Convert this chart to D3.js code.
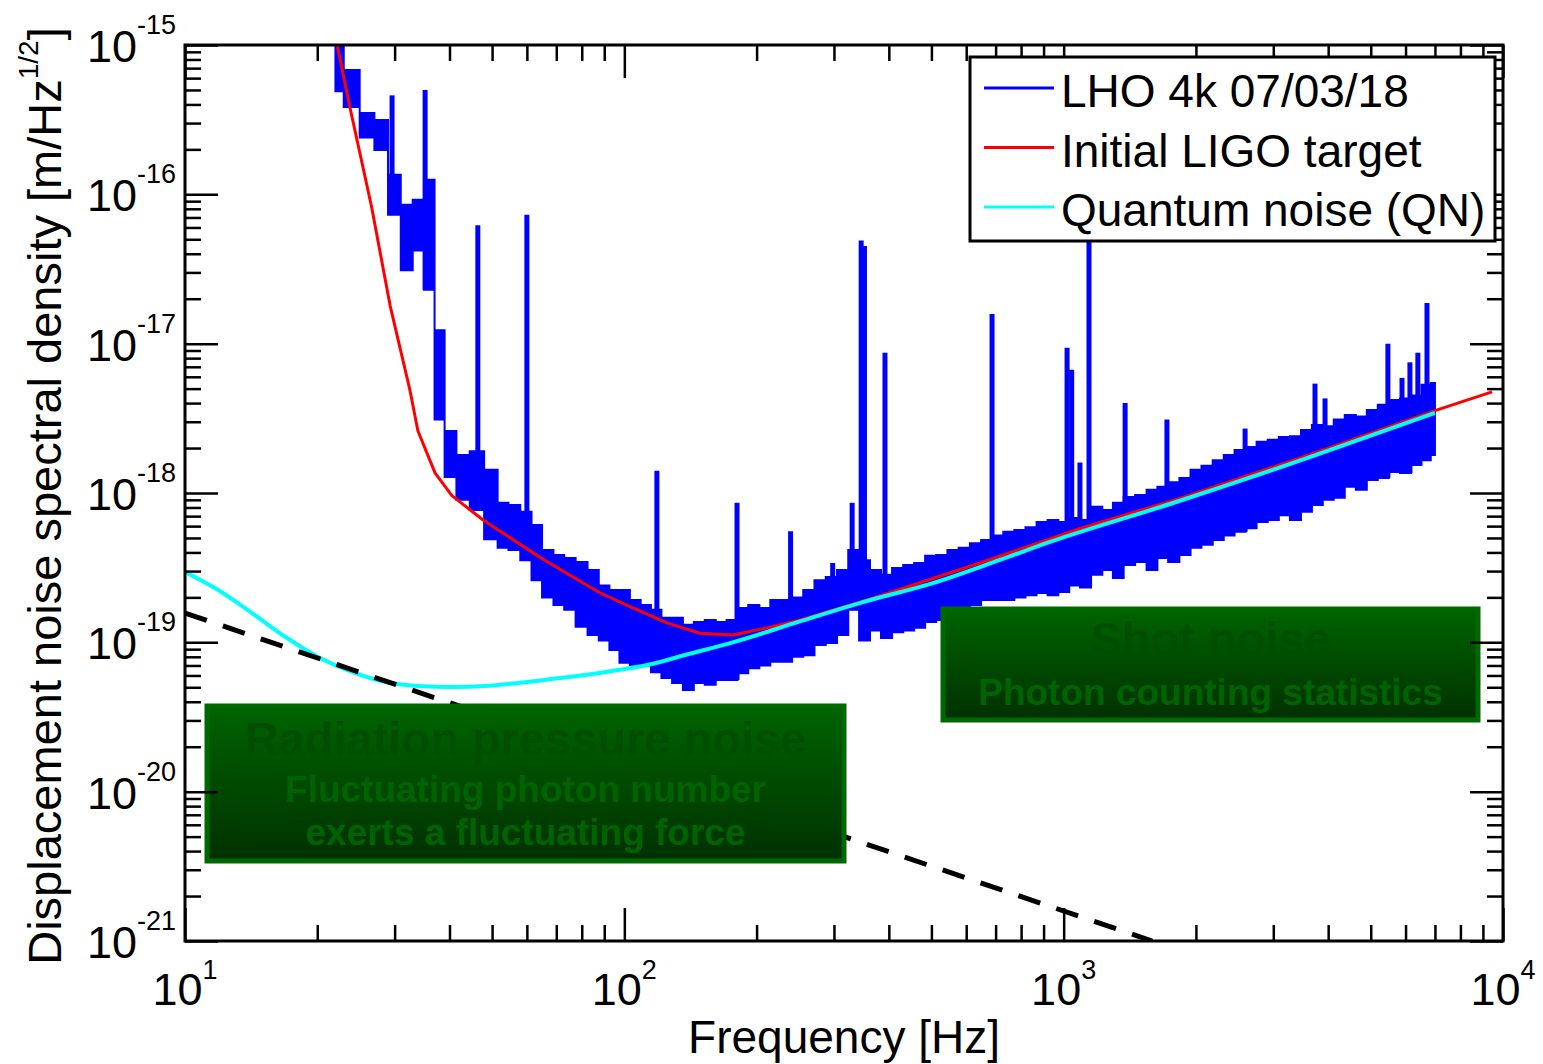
<!DOCTYPE html>
<html>
<head>
<meta charset="utf-8">
<script src="https://cdn.jsdelivr.net/npm/d3@7"></script>
<style>
  body { margin: 0; background: #fff; }
  text { font-family: "Liberation Sans", Arial, sans-serif; }
</style>
</head>
<body>
<script>
// ---- data ----
var bandFreq = [22, 24, 26, 28, 30, 32, 34, 36, 38, 40, 43, 46, 50, 53, 56, 60, 63, 67, 71, 75, 80, 85, 90, 95,
  100, 106, 112, 118, 125, 132, 140, 148, 157, 166, 176, 186, 197, 209, 221, 234, 248, 263, 279, 296, 314, 333,
  352, 373, 395, 419, 444, 470, 498, 528, 560, 594, 630, 668, 708, 750, 795, 843, 893, 946,
  1000, 1060, 1120, 1190, 1260, 1330, 1410, 1500, 1590, 1680, 1780, 1890, 2000, 2120, 2250, 2380, 2520, 2670,
  2830, 3000, 3180, 3370, 3570, 3780, 4000, 4240, 4490, 4760, 5040, 5340, 5660, 6000, 6350, 6700, 7000];

var bandHigh = [1.2e-15, 6.8e-16, 3.5e-16, 3.15e-16, 1.35e-16, 8.5e-17, 9.2e-17, 1.25e-16, 1.23e-17, 2.6e-18,
  1.8e-18, 1.9e-18, 1.43e-18, 8.6e-19, 8.3e-19, 7.5e-19, 6.1e-19, 4.15e-19, 3.85e-19, 3.67e-19, 3.45e-19, 3.05e-19,
  2.4e-19, 2.24e-19, 2.24e-19, 1.92e-19, 1.78e-19, 1.65e-19, 1.46e-19, 1.46e-19, 1.31e-19, 1.37e-19, 1.41e-19,
  1.37e-19, 1.41e-19, 1.7e-19, 1.78e-19, 1.7e-19, 1.92e-19, 1.92e-19, 2.0e-19, 2.24e-19, 2.6e-19, 2.74e-19,
  3.05e-19, 4.15e-19, 3.55e-19, 3.05e-19, 2.83e-19, 3.15e-19, 3.3e-19, 3.4e-19, 3.8e-19, 3.85e-19, 4.15e-19,
  4.3e-19, 4.6e-19, 4.85e-19, 5.2e-19, 5.5e-19, 5.65e-19, 5.9e-19, 6.4e-19, 6.6e-19,
  6.4e-19, 6.8e-19, 6.6e-19, 8.1e-19, 7.7e-19, 8.6e-19, 9.4e-19, 9.7e-19, 1.05e-18, 1.1e-18, 1.18e-18, 1.26e-18,
  1.43e-18, 1.52e-18, 1.66e-18, 1.8e-18, 1.94e-18, 2.03e-18, 2.2e-18, 2.27e-18, 2.37e-18, 2.4e-18, 2.64e-18,
  2.85e-18, 2.8e-18, 3.1e-18, 3.33e-18, 3.25e-18, 3.6e-18, 3.9e-18, 4.2e-18, 4.3e-18, 4.5e-18, 5.3e-18, 5.45e-18];

var bandLow = [4.9e-16, 3.85e-16, 2.4e-16, 1.98e-16, 7.3e-17, 3.1e-17, 4.2e-17, 2.3e-17, 3.1e-18, 1.28e-18,
  9.0e-19, 7.7e-19, 4.9e-19, 4.3e-19, 4.15e-19, 3.55e-19, 2.6e-19, 2.0e-19, 1.78e-19, 1.65e-19, 1.27e-19, 1.12e-19,
  1.03e-19, 8.9e-20, 7.3e-20, 7.0e-20, 7.0e-20, 6.3e-20, 5.76e-20, 5.34e-20, 4.8e-20, 5.34e-20, 5.2e-20,
  5.6e-20, 5.6e-20, 6.2e-20, 6.7e-20, 7.0e-20, 7.4e-20, 7.4e-20, 8.0e-20, 8.2e-20, 9.6e-20, 9.9e-20,
  1.12e-19, 1.65e-19, 1.03e-19, 1.2e-19, 1.07e-19, 1.17e-19, 1.2e-19, 1.25e-19, 1.37e-19, 1.41e-19, 1.53e-19,
  1.72e-19, 1.78e-19, 1.92e-19, 1.92e-19, 1.92e-19, 2.0e-19, 2.07e-19, 2.14e-19, 2.07e-19,
  2.17e-19, 2.4e-19, 2.33e-19, 2.83e-19, 3.05e-19, 2.7e-19, 3.3e-19, 3.45e-19, 3.05e-19, 3.67e-19, 3.45e-19,
  3.85e-19, 4.3e-19, 4.5e-19, 4.85e-19, 5.2e-19, 5.5e-19, 5.8e-19, 6.4e-19, 6.6e-19, 7.1e-19, 6.6e-19, 7.5e-19,
  8.3e-19, 9.0e-19, 9.3e-19, 1.1e-18, 1.05e-18, 1.22e-18, 1.26e-18, 1.38e-18, 1.36e-18, 1.54e-18, 1.66e-18, 1.8e-18];

// narrow lines sticking out of the LHO spectrum: [frequency, peak]
var spikes = [[29.6, 4.6e-16], [35.2, 5.0e-16], [46.4, 6.2e-17], [60, 7.3e-17], [118.6, 1.41e-18],
  [180.5, 8.6e-19], [239, 5.55e-19], [298, 3.4e-19], [330, 8.6e-19], [346, 4.9e-17], [352, 4.5e-17],
  [392, 8.7e-18], [687, 1.58e-17], [1018, 9.4e-18], [1043, 6.7e-18], [1089, 1.6e-18], [1142, 5.2e-17],
  [1380, 4.0e-18], [1718, 3.1e-18], [2588, 2.7e-18], [3733, 5.4e-18], [3935, 4.3e-18], [5470, 1.0e-17],
  [5890, 5.9e-18], [6140, 7.5e-18], [6400, 8.7e-18], [6714, 1.87e-17]];

var targetFreq = [22.2, 23.7, 26.6, 29.3, 32.5, 33.9, 37.1, 40.5, 47.7, 52.9, 65.3, 88.1, 104.6, 125, 148.6,
  176.6, 211, 251, 357, 645, 1090, 1775, 3580, 7000, 9440];
var targetVal = [1.0e-15, 3.9e-16, 8.2e-17, 1.8e-17, 4.9e-18, 2.6e-18, 1.36e-18, 9.6e-19, 6.6e-19, 5.4e-19,
  3.6e-19, 2.14e-19, 1.7e-19, 1.35e-19, 1.15e-19, 1.12e-19, 1.25e-19, 1.41e-19, 1.92e-19, 3.4e-19, 5.8e-19,
  8.9e-19, 1.78e-18, 3.56e-18, 4.75e-18];

var qnFreq = [10, 11.9, 14.2, 16.9, 20.1, 24, 28.5, 33.9, 40.5, 48.2, 57.3, 68.4, 81.4, 96.7, 115.6, 137.5,
  176.6, 251, 349, 504, 716, 931, 1775, 3580, 7000];
var qnVal = [2.96e-19, 2.24e-19, 1.57e-19, 1.09e-19, 7.98e-20, 6.33e-20, 5.42e-20, 5.1e-20, 5.02e-20, 5.1e-20,
  5.35e-20, 5.68e-20, 6.04e-20, 6.53e-20, 7.16e-20, 8.23e-20, 1.0e-19, 1.38e-19, 1.86e-19, 2.49e-19, 3.56e-19,
  4.7e-19, 8.57e-19, 1.71e-18, 3.44e-18];

var rpFreq = [10, 1590];
var rpVal = [1.57e-19, 1.0e-21];

var xMajor = [10, 100, 1000, 10000];
var xMajorExp = ["1", "2", "3", "4"];
var yMajor = [1e-15, 1e-16, 1e-17, 1e-18, 1e-19, 1e-20, 1e-21];
var yMajorExp = ["-15", "-16", "-17", "-18", "-19", "-20", "-21"];

var legendNames = ["LHO 4k 07/03/18", "Initial LIGO target", "Quantum noise (QN)"];
var legendColors = ["#0000ff", "#ff0000", "#00ffff"];

var shotText = ["Shot noise", "Photon counting statistics"];
var rpText = ["Radiation pressure noise", "Fluctuating photon number", "exerts a fluctuating force"];

// ---- layout ----
var width = 1543, height = 1064;
var plotL = 185, plotR = 1503, plotT = 45, plotB = 941;

var svg = d3.select("body").append("svg")
    .attr("width", width)
    .attr("height", height)
    .style("background", "#fff");

var x = d3.scaleLog().domain([10, 1e4]).range([plotL, plotR]);
var y = d3.scaleLog().domain([1e-21, 1e-15]).range([plotB, plotT]);

var defs = svg.append("defs");
defs.append("clipPath").attr("id", "plotclip")
  .append("rect").attr("x", plotL).attr("y", plotT).attr("width", plotR - plotL).attr("height", plotB - plotT);
var grad = defs.append("linearGradient").attr("id", "boxgrad")
  .attr("x1", 0).attr("y1", 0).attr("x2", 0).attr("y2", 1);
grad.append("stop").attr("offset", "0%").attr("stop-color", "#006400");
grad.append("stop").attr("offset", "100%").attr("stop-color", "#003000");

var plot = svg.append("g").attr("clip-path", "url(#plotclip)");

// LHO spectrum: envelope band + lines
var band = bandFreq.map(function(f, i) { return {f: f, hi: bandHigh[i], lo: bandLow[i]}; });
var area = d3.area()
  .x(function(d) { return x(d.f); })
  .y0(function(d) { return y(d.lo); })
  .y1(function(d) { return y(d.hi); })
  .curve(d3.curveStep);
plot.append("path").datum(band)
  .attr("d", area)
  .attr("fill", "#0000ff")
  .attr("stroke", "#0000ff")
  .attr("stroke-width", 2);

plot.selectAll(".spike").data(spikes).enter().append("line")
  .attr("class", "spike")
  .attr("x1", function(d) { return x(d[0]); })
  .attr("x2", function(d) { return x(d[0]); })
  .attr("y1", function(d) { return y(d[1]); })
  .attr("y2", function(d) {
    var i = d3.minIndex(band, function(b) { return Math.abs(Math.log(b.f / d[0])); });
    return y(band[i].lo);
  })
  .attr("stroke", "#0000ff")
  .attr("stroke-width", 5);

var line = d3.line()
  .x(function(d) { return x(d[0]); })
  .y(function(d) { return y(d[1]); })
  .curve(d3.curveMonotoneX);

plot.append("path").datum(d3.zip(targetFreq, targetVal))
  .attr("d", line.curve(d3.curveLinear)).attr("fill", "none")
  .attr("stroke", "#ff0000").attr("stroke-width", 3).attr("stroke-linejoin", "round");

plot.append("path").datum(d3.zip(qnFreq, qnVal))
  .attr("d", line.curve(d3.curveMonotoneX)).attr("fill", "none")
  .attr("stroke", "#00ffff").attr("stroke-width", 4);

// annotation boxes
function noteBox(x0, y0, w, h, lines, sizes, baselines, colors) {
  var g = svg.append("g");
  g.append("rect").attr("x", x0).attr("y", y0).attr("width", w).attr("height", h)
    .attr("fill", "url(#boxgrad)").attr("stroke", "#006800").attr("stroke-width", 5);
  lines.forEach(function(t, i) {
    g.append("text").attr("x", x0 + w / 2).attr("y", baselines[i])
      .attr("text-anchor", "middle").attr("font-weight", "bold")
      .attr("font-size", sizes[i]).attr("fill", colors[i]).text(t);
  });
}
noteBox(943, 609, 535, 111, shotText, [47, 37], [655, 705], ["#004f00", "#006200"]);
noteBox(207, 706, 637, 155, rpText, [47, 37, 37], [755, 802, 845], ["#004f00", "#006200", "#006200"]);

// radiation pressure dashed line
plot.append("path").datum(d3.zip(rpFreq, rpVal))
  .attr("d", d3.line().x(function(d) { return x(d[0]); }).y(function(d) { return y(d[1]); }))
  .attr("fill", "none").attr("stroke", "#000").attr("stroke-width", 5)
  .attr("stroke-dasharray", "23,17");

// ---- axes: inward ticks on all four sides ----
function isMajor(v) { var l = Math.log10(v); return Math.abs(l - Math.round(l)) < 1e-6; }
var xMinor = x.ticks().filter(function(v) { return !isMajor(v); });
var yMinor = y.ticks().filter(function(v) { return !isMajor(v); });

function tickGroup(axis, tx, ty) {
  var g = svg.append("g").attr("transform", "translate(" + tx + "," + ty + ")").call(axis);
  g.select(".domain").remove();
  g.selectAll("line").attr("stroke", "#000").attr("stroke-width", 2.5);
  return g;
}
[[xMinor, 16], [xMajor, 33]].forEach(function(p) {
  tickGroup(d3.axisBottom(x).tickValues(p[0]).tickSize(-p[1]).tickFormat(""), 0, plotB);
  tickGroup(d3.axisTop(x).tickValues(p[0]).tickSize(-p[1]).tickFormat(""), 0, plotT);
});
[[yMinor, 16], [yMajor, 33]].forEach(function(p) {
  tickGroup(d3.axisLeft(y).tickValues(p[0]).tickSize(-p[1]).tickFormat(""), plotL, 0);
  tickGroup(d3.axisRight(y).tickValues(p[0]).tickSize(-p[1]).tickFormat(""), plotR, 0);
});

svg.append("rect").attr("x", plotL).attr("y", plotT).attr("width", plotR - plotL).attr("height", plotB - plotT)
  .attr("fill", "none").attr("stroke", "#000").attr("stroke-width", 3);

// tick labels (10^n)
xMajor.forEach(function(v, i) {
  var t = svg.append("text").attr("x", x(v)).attr("y", plotB + 64)
    .attr("text-anchor", "middle").attr("font-size", 45);
  t.append("tspan").text("10");
  t.append("tspan").attr("font-size", 27).attr("dy", -26).text(xMajorExp[i]);
});
yMajor.forEach(function(v, i) {
  var t = svg.append("text").attr("x", 176).attr("y", y(v) + 17)
    .attr("text-anchor", "end").attr("font-size", 45);
  t.append("tspan").text("10");
  t.append("tspan").attr("font-size", 27).attr("dy", -28).text(yMajorExp[i]);
});

// axis titles
svg.append("text").attr("x", (plotL + plotR) / 2).attr("y", 1053)
  .attr("text-anchor", "middle").attr("font-size", 46).text("Frequency [Hz]");
var yt = svg.append("text").attr("transform", "translate(61,496) rotate(-90)")
  .attr("text-anchor", "middle").attr("font-size", 47);
yt.append("tspan").text("Displacement noise spectral density [m/Hz");
yt.append("tspan").attr("font-size", 28).attr("dy", -23).text("1/2");
yt.append("tspan").attr("dy", 23).text("]");

// legend
var lg = svg.append("g");
lg.append("rect").attr("x", 970).attr("y", 57).attr("width", 525).attr("height", 184)
  .attr("fill", "#fff").attr("stroke", "#000").attr("stroke-width", 3);
legendNames.forEach(function(name, i) {
  var cy = 88 + i * 59.5;
  lg.append("line").attr("x1", 984).attr("x2", 1054).attr("y1", cy).attr("y2", cy)
    .attr("stroke", legendColors[i]).attr("stroke-width", 3);
  lg.append("text").attr("x", 1061).attr("y", cy + 19).attr("font-size", 46).text(name);
});
</script>
</body>
</html>
